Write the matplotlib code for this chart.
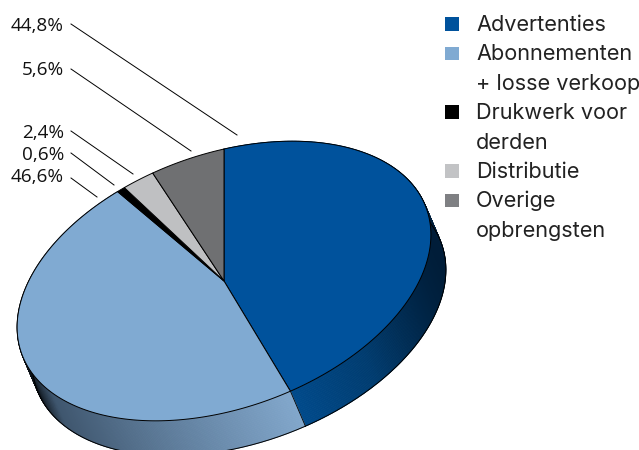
import numpy as np
import matplotlib
matplotlib.use("Agg")
import matplotlib.pyplot as plt
from matplotlib.collections import PolyCollection
from matplotlib.colors import LinearSegmentedColormap
from matplotlib.patches import Polygon, Rectangle

categories = ["Advertenties", "Abonnementen\n+ losse verkoop", "Drukwerk voor\nderden", "Distributie", "Overige\nopbrengsten"]
shares = [44.8, 46.6, 0.6, 2.4, 5.6]
share_labels = ["44,8%", "46,6%", "0,6%", "2,4%", "5,6%"]
colors = ["#00529c", "#80aad2", "#000000", "#bfc0c2", "#6f7072"]
legend_colors = ["#00529c", "#80aad2", "#000000", "#c2c3c5", "#7f8083"]

# pie geometry, in pixels of the 639x450 picture
CENTER = np.array([224.0, 281.0])
SEMI_A, SEMI_B, TILT = 215.0, 127.0, np.radians(-19.7)
DEPTH = np.array([15.0, 35.0])
rot = np.array([[np.cos(TILT), -np.sin(TILT)], [np.sin(TILT), np.cos(TILT)]])
ELLIPSE = rot @ np.diag([SEMI_A, SEMI_B])

# value -> angle on the unit circle, starting straight up on screen and running clockwise
up = np.linalg.solve(ELLIPSE, np.array([0.0, -1.0]))
START = np.arctan2(up[1], up[0])


def rim(a0, a1, n=200):
    t = np.linspace(a0, a1, n)
    return CENTER + (ELLIPSE @ np.vstack([np.cos(t), np.sin(t)])).T


fig = plt.figure(figsize=(6.39, 4.5), dpi=100)
ax = fig.add_axes([0, 0, 1, 1])
ax.set_xlim(0, 639)
ax.set_ylim(450, 0)
ax.axis("off")

edges = START + np.radians(np.concatenate([[0], np.cumsum(shares)]) * 3.6)

side_maps = {
    0: LinearSegmentedColormap.from_list("blue_side", [(0, "#004b8d"), (0.5, "#003c70"), (1, "#001a33")]),
    1: LinearSegmentedColormap.from_list("light_side", [(0, "#0c1218"), (0.1, "#3f566e"), (0.6, "#6585a5"), (1, "#84aacf")]),
}
side_spans = {0: (291, 446), 1: (30, 306)}

# side wall first, the top surface covers whatever is behind it
for i, cmap in side_maps.items():
    pts = rim(edges[i], edges[i + 1], 400)
    quads = [np.array([pts[k], pts[k + 1], pts[k + 1] + DEPTH, pts[k] + DEPTH]) for k in range(len(pts) - 1)]
    x0, x1 = side_spans[i]
    shade = [cmap(np.clip((q[:, 0].mean() - x0) / (x1 - x0), 0, 1)) for q in quads]
    ax.add_collection(PolyCollection(quads, facecolors=shade, edgecolors=shade, linewidths=0.6, zorder=1))
    ax.plot(pts[:, 0] + DEPTH[0], pts[:, 1] + DEPTH[1], color="black", lw=0.7, zorder=2)
    ax.plot([pts[0, 0], pts[0, 0] + DEPTH[0]], [pts[0, 1], pts[0, 1] + DEPTH[1]], color="black", lw=0.6, zorder=2)

for i, col in enumerate(colors):
    pts = rim(edges[i], edges[i + 1], 200)
    ax.add_patch(Polygon(np.vstack([CENTER, pts]), closed=True, facecolor=col, edgecolor="black", lw=0.7, zorder=3))

# leader lines and percentages
leader_ends = [(237, 135), (97, 197), (114, 185), (133, 174), (191, 151)]
leader_starts = [24, 178, 153, 131, 69]
label_baselines = [31, 182, 160, 138, 75]
for text, y0, end, base in zip(share_labels, leader_starts, leader_ends, label_baselines):
    ax.plot([71, end[0]], [y0, end[1]], color="black", lw=0.7, zorder=4)
    ax.text(64, base, text, ha="right", va="baseline", fontsize=13.6, family="Open Sans", color="#111111")

# legend, drawn by hand because entries wrap on a fixed line pitch
LINE_PITCH = 29.4
row = 0
for label, col in zip(categories, legend_colors):
    y = 24 + row * LINE_PITCH
    ax.add_patch(Rectangle((445, y - 6.8), 13.6, 13.6, facecolor=col, edgecolor="none", zorder=4))
    for line in label.split("\n"):
        ax.text(476, 31 + row * LINE_PITCH, line, ha="left", va="baseline", fontsize=15.6, family="Inter", color="#222222")
        row += 1

fig.savefig("out.png", dpi=100)
plt.close(fig)
